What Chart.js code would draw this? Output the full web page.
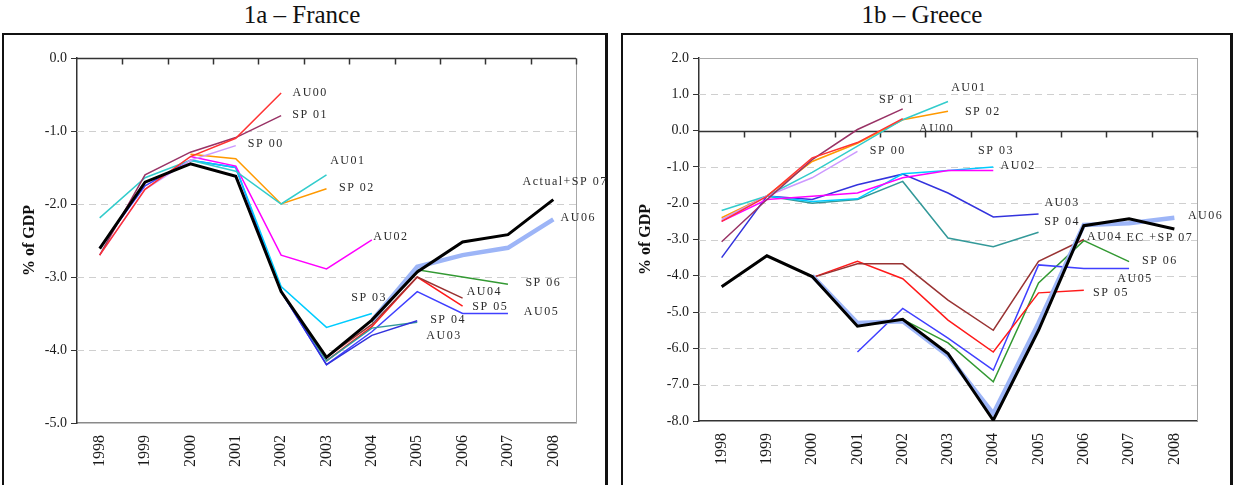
<!DOCTYPE html>
<html>
<head>
<meta charset="utf-8">
<script src="https://cdn.jsdelivr.net/npm/chart.js@4.4.1/dist/chart.umd.min.js"></script>
<style>
  body { margin: 0; background: #fff; width: 1237px; height: 485px; overflow: hidden; position: relative; font-family: 'Liberation Serif', serif; }
  .title { position: absolute; top: 0; font-size: 25px; line-height: 30px; text-align: center; color: #111; }
  .frame { position: absolute; top: 33px; height: 470px; border: 2px solid #111; border-right-width: 3px; box-sizing: border-box; }
  canvas { position: absolute; top: 0; }
</style>
</head>
<body>
<div class="title" style="left:152px;width:300px">1a – France</div>
<div class="title" style="left:772px;width:300px">1b – Greece</div>
<div class="frame" style="left:2px;width:606px"></div>
<div class="frame" style="left:621px;width:612px"></div>
<canvas id="france" width="610" height="485" style="left:0"></canvas>
<canvas id="greece" width="621" height="485" style="left:616px"></canvas>
<script>
// Years on the category axis
const years = ['1998', '1999', '2000', '2001', '2002', '2003', '2004', '2005', '2006', '2007', '2008'];

// France, general government balance (% of GDP), one series per programme
const frActual = [-2.61, -1.70, -1.45, -1.62, -3.20, -4.10, -3.59, -2.93, -2.52, -2.42, -1.94];
const frAU06 = [null, null, null, null, null, null, -3.60, -2.86, -2.70, -2.60, -2.21];
const frAU00 = [-2.70, -1.80, -1.35, -1.10, -0.48];
const frSP01 = [-2.70, -1.60, -1.29, -1.09, -0.79];
const frSP00 = [-2.70, -1.80, -1.40, -1.20];
const frAU01 = [-2.19, -1.64, -1.40, -1.55, -2.00, -1.60];
const frSP02 = [null, null, -1.32, -1.38, -2.00, -1.79];
const frAU02 = [null, null, -1.35, -1.48, -2.70, -2.89, -2.49];
const frSP03 = [null, null, -1.40, -1.50, -3.13, -3.69, -3.50];
const frAU03 = [null, null, null, null, -3.20, -4.20, -3.80, -3.60];
const frSP04 = [null, null, null, null, -3.20, -4.15, -3.70, -3.62];
const frAU04 = [null, null, null, null, null, -4.10, -3.65, -3.00, -3.29];
const frSP05 = [null, null, null, null, null, -4.15, -3.68, -3.00, -3.40];
const frAU05 = [-2.60, -1.75, -1.40, -1.50, -3.20, -4.20, -3.75, -3.20, -3.50, -3.50];
const frSP06 = [null, null, null, null, null, null, -3.62, -2.90, -3.00, -3.10];

// Greece
const grActual = [-4.30, -3.45, -4.02, -5.39, -5.20, -6.14, -7.98, -5.50, -2.62, -2.43, -2.71];
const grAU06 = [null, null, -4.00, -5.30, -5.25, -6.20, -7.80, -5.30, -2.60, -2.55, -2.40];
const grAU00 = [-2.50, -1.81, -0.75, -0.33, 0.33];
const grSP01 = [-3.06, -1.90, -0.80, 0.03, 0.60];
const grSP00 = [-2.45, -1.80, -1.30, -0.57];
const grAU01 = [-2.20, -1.80, -1.15, -0.43, 0.30, 0.80];
const grSP02 = [-2.40, -1.80, -0.85, -0.35, 0.30, 0.53];
const grAU02 = [-2.50, -1.90, -1.81, -1.72, -1.30, -1.10, -1.10];
const grSP03 = [null, -1.80, -1.95, -1.88, -1.19, -1.10, -1.00];
const grAU03 = [-3.50, -1.80, -1.90, -1.49, -1.20, -1.72, -2.38, -2.30];
const grSP04 = [null, -1.80, -2.00, -1.90, -1.40, -2.96, -3.20, -2.80];
const grAU04 = [null, null, -4.05, -3.67, -3.67, -4.67, -5.50, -3.60, -3.00];
const grSP05 = [null, null, -4.05, -3.60, -4.08, -5.22, -6.10, -4.47, -4.40];
const grAU05 = [null, null, null, -6.10, -4.90, -5.72, -6.60, -3.70, -3.80, -3.80];
const grSP06 = [null, null, null, null, -5.20, -5.85, -6.92, -4.20, -3.03, -3.61];

// Text labels next to the lines: [text, category position, value]
const frLabels = [
  ['AU00', 4.64, -0.48], ['SP 01', 4.64, -0.78], ['SP 00', 3.66, -1.18],
  ['AU01', 5.47, -1.41], ['SP 02', 5.67, -1.78], ['Actual+SP 07', 10.26, -1.70],
  ['AU06', 10.55, -2.19], ['AU02', 6.42, -2.45], ['SP 03', 5.94, -3.29],
  ['AU04', 8.48, -3.21], ['SP 06', 9.78, -3.08], ['SP 05', 8.61, -3.41],
  ['AU05', 9.74, -3.48], ['SP 04', 7.68, -3.59], ['AU03', 7.59, -3.81]
];
const grLabels = [
  ['SP 01', 3.87, 0.85], ['AU01', 5.46, 1.19], ['SP 02', 5.77, 0.52],
  ['AU00', 4.75, 0.06], ['SP 00', 3.67, -0.55], ['SP 03', 6.06, -0.55],
  ['AU02', 6.55, -0.97], ['AU03', 7.52, -1.99], ['SP 04', 7.52, -2.51],
  ['AU06', 10.69, -2.34], ['AU04', 8.46, -2.92], ['EC +SP 07', 9.68, -2.95],
  ['SP 06', 9.68, -3.58], ['AU05', 9.13, -4.08], ['SP 05', 8.60, -4.47]
];

const FONT = "'Liberation Serif', serif";

function line(label, data, color, width) {
  return {
    label: label, data: data, borderColor: color, borderWidth: width || 1.5,
    pointRadius: 0, fill: false, tension: 0, spanGaps: false
  };
}

function seriesSet(s) {
  // first entries are drawn on top
  return [
    line('Actual', s.actual, '#000000', 3),
    line('AU06', s.au06, '#9db5f7', 4.5),
    line('AU00', s.au00, '#ff3333'),
    line('SP 01', s.sp01, '#993366'),
    line('SP 00', s.sp00, '#cc99ff'),
    line('AU01', s.au01, '#33cccc'),
    line('SP 02', s.sp02, '#ff9900'),
    line('AU02', s.au02, '#ff00ff'),
    line('SP 03', s.sp03, '#00ccff'),
    line('AU03', s.au03, '#3333dd'),
    line('SP 04', s.sp04, '#339999'),
    line('AU04', s.au04, '#993333'),
    line('SP 05', s.sp05, '#ff1a1a'),
    line('AU05', s.au05, '#4040ff'),
    line('SP 06', s.sp06, '#339933')
  ];
}

// gridlines, category axis at zero and light plot border
const axesPlugin = {
  id: 'axesPlugin',
  beforeDatasetsDraw(chart) {
    const { ctx, chartArea: a, scales: { x, y } } = chart;
    const seg = (x1, y1, x2, y2) => { ctx.beginPath(); ctx.moveTo(x1, y1); ctx.lineTo(x2, y2); ctx.stroke(); };
    ctx.save();
    ctx.lineWidth = 1;
    ctx.strokeStyle = '#cfcfcf';
    ctx.setLineDash([7, 5]);
    y.ticks.forEach(t => {
      if (t.value === y.max || t.value === y.min || t.value === 0) return;
      const py = Math.round(y.getPixelForValue(t.value)) + 0.5;
      seg(a.left, py, a.right, py);
    });
    ctx.setLineDash([]);
    ctx.strokeStyle = '#a8a8a8';
    seg(a.left, a.top + 0.5, a.right, a.top + 0.5);
    seg(a.right + 0.5, a.top, a.right + 0.5, a.bottom);
    const py0 = Math.round(y.getPixelForValue(0)) + 0.5;
    ctx.strokeStyle = '#333';
    ctx.lineWidth = 1.5;
    seg(a.left, py0, a.right, py0);
    const n = years.length;
    for (let i = 1; i <= n; i++) {
      const px = Math.round(x.left + i * x.width / n) + 0.5;
      seg(px, py0, px, py0 + 6);
    }
    ctx.restore();
  }
};

const labelsPlugin = {
  id: 'seriesLabels',
  afterDatasetsDraw(chart, args, opts) {
    const { ctx, scales: { x, y } } = chart;
    ctx.save();
    ctx.font = '12px ' + FONT;
    ctx.letterSpacing = '1.5px';
    ctx.fillStyle = '#2a2a2a';
    ctx.textAlign = 'center';
    ctx.textBaseline = 'middle';
    (opts.items || []).forEach(l => {
      ctx.fillText(l[0], x.getPixelForValue(l[1]), y.getPixelForValue(l[2]));
    });
    ctx.restore();
  }
};

function makeChart(id, datasets, labels, yMin, yMax, yWidth, xHeight, padRight, bottomColor) {
  return new Chart(document.getElementById(id), {
    type: 'line',
    data: { labels: years, datasets: datasets },
    plugins: [axesPlugin, labelsPlugin],
    options: {
      responsive: false,
      animation: false,
      devicePixelRatio: 1,
      layout: { padding: { left: 20, top: 58, right: padRight, bottom: 0 } },
      plugins: {
        legend: { display: false },
        tooltip: { enabled: false },
        seriesLabels: { items: labels }
      },
      scales: {
        x: {
          type: 'category',
          offset: true,
          grid: { display: false, drawTicks: false },
          border: { display: true, color: bottomColor, width: 1.5 },
          ticks: {
            autoSkip: false, minRotation: 90, maxRotation: 90, padding: 12,
            color: '#1a1a1a', font: { family: FONT, size: 16 }
          },
          afterFit: s => { s.height = xHeight; }
        },
        y: {
          min: yMin,
          max: yMax,
          grid: { drawOnChartArea: false, drawTicks: true, tickLength: 6, color: '#333' },
          border: { display: true, color: '#333', width: 1.5 },
          ticks: {
            stepSize: 1, padding: 4, color: '#1a1a1a',
            font: { family: FONT, size: 14 },
            callback: v => v.toFixed(1)
          },
          title: {
            display: true, text: '% of GDP', color: '#111',
            font: { family: FONT, size: 16, weight: 'bold' },
            padding: { top: 0, bottom: 4 }
          },
          afterFit: s => { s.width = yWidth; }
        }
      }
    }
  });
}

makeChart('france', seriesSet({
  actual: frActual, au06: frAU06, au00: frAU00, sp01: frSP01, sp00: frSP00,
  au01: frAU01, sp02: frSP02, au02: frAU02, sp03: frSP03, au03: frAU03,
  sp04: frSP04, au04: frAU04, sp05: frSP05, au05: frAU05, sp06: frSP06
}), frLabels, -5, 0, 57, 62, 34, '#8a8a8a');

makeChart('greece', seriesSet({
  actual: grActual, au06: grAU06, au00: grAU00, sp01: grSP01, sp00: grSP00,
  au01: grAU01, sp02: grSP02, au02: grAU02, sp03: grSP03, au03: grAU03,
  sp04: grSP04, au04: grAU04, sp05: grSP05, au05: grAU05, sp06: grSP06
}), grLabels, -8, 2, 63, 64, 40, '#333');
</script>
</body>
</html>
